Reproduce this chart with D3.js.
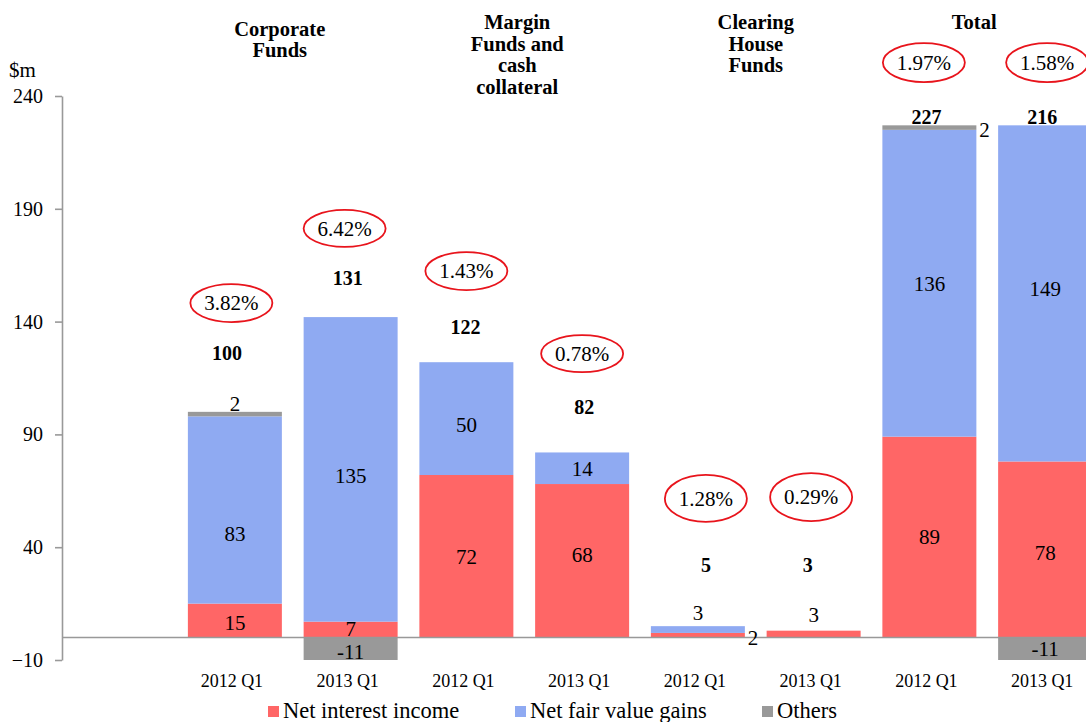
<!DOCTYPE html>
<html>
<head>
<meta charset="utf-8">
<script src="https://cdn.jsdelivr.net/npm/d3@7"></script>
<style>
  html, body { margin: 0; padding: 0; background: #fff; }
</style>
</head>
<body>
<svg id="chart" width="1086" height="722"></svg>
<script>
// ---- data ----
var barKeys   = ["cf12", "cf13", "mf12", "mf13", "ch12", "ch13", "tt12", "tt13"];
var periods   = ["2012 Q1", "2013 Q1", "2012 Q1", "2013 Q1", "2012 Q1", "2013 Q1", "2012 Q1", "2013 Q1"];
var groups    = ["Corporate\nFunds", "Margin\nFunds and\ncash\ncollateral", "Clearing\nHouse\nFunds", "Total"];
var interest  = [15, 7, 72, 68, 2, 3, 89, 78];
var fairValue = [83, 135, 50, 14, 3, 0, 136, 149];
var others    = [2, -11, 0, 0, 0, 0, 2, -11];
var totals    = [100, 131, 122, 82, 5, 3, 227, 216];
var yields    = ["3.82%", "6.42%", "1.43%", "0.78%", "1.28%", "0.29%", "1.97%", "1.58%"];
var yTicks    = [-10, 40, 90, 140, 190, 240];
var seriesNames = ["Net interest income", "Net fair value gains", "Others"];

// ---- annotation anchors (chart units) ----
var ellipseAt = [148.2, 181.3, 162.4, 125.8, 61.6, 62.2, 254.8, 254.8];
var totalAt   = [126, 159.3, 137.5, 102, 32.3, 32.3, 230.5, 230.5];
// annotation layout tweaks (px)
var ellipseDx = [-3.5, -6, 0, 0, 8, -2.5, -5.5, 2];
var ellipseRy = [19, 18.5, 19, 18.5, 23.5, 24, 19.5, 19.5];
var totalDx   = [-8, -3, -1, 2, 8, -6, -3, -3];
// where small segment labels go instead of the middle, plus pixel nudges
var smallLabel = { "0-4": "right", "1-4": "above", "0-5": "above", "2-0": "above", "2-6": "right" };
var labelNudge = { "1-0": 24, "0-3": -6, "1-1": 6, "1-2": 6, "1-7": -5, "0-7": 3, "0-0": 2, "2-0": 5, "0-5": -3, "2-1": 3, "0-1": -1 };
var FONT = "Liberation Serif";

var colors = ["#ff6666", "#8faaf2", "#999999"];

var svg = d3.select("#chart");
var W = 1086, H = 722;

var y = d3.scaleLinear().domain([-10, 240]).range([660, 96]);
var x = d3.scaleBand().domain(barKeys).range([177, 1103]).paddingInner(0.188).paddingOuter(0.094);

var rows = barKeys.map(function(k, i) {
  return { key: k, s0: interest[i], s1: fairValue[i], s2: others[i] };
});
var stacked = d3.stack().keys(["s0", "s1", "s2"]).offset(d3.stackOffsetDiverging)(rows);

svg.append("defs").append("clipPath").attr("id", "plot")
  .append("rect").attr("x", 62).attr("y", y(240)).attr("width", W).attr("height", y(-10) - y(240));

// bars
var plot = svg.append("g").attr("clip-path", "url(#plot)");
stacked.forEach(function(layer, si) {
  layer.forEach(function(seg, bi) {
    var v = seg[1] - seg[0];
    if (v === 0) return;
    plot.append("rect")
      .attr("x", x(barKeys[bi]))
      .attr("y", y(seg[1]))
      .attr("width", x.bandwidth())
      .attr("height", y(seg[0]) - y(seg[1]))
      .attr("fill", colors[si]);
  });
});

// zero line
svg.append("line")
  .attr("x1", 62).attr("x2", W)
  .attr("y1", y(0)).attr("y2", y(0))
  .attr("stroke", "#999").attr("stroke-width", 1.6);

// y axis
svg.append("g")
  .attr("transform", "translate(62,0)")
  .call(d3.axisLeft(y).tickValues(yTicks).tickSize(7).tickSizeOuter(0).tickPadding(12))
  .call(function(g) {
    g.attr("font-size", 20);
    g.select(".domain").attr("stroke", "#999").attr("stroke-width", 1.6);
    g.selectAll(".tick line").attr("stroke", "#999").attr("stroke-width", 1.6);
    g.selectAll("text").attr("fill", "#000");
  });

svg.append("text").attr("x", 9).attr("y", 77)
  .attr("font-size", 21).text("$m");

// segment labels
stacked.forEach(function(layer, si) {
  layer.forEach(function(seg, bi) {
    var v = seg[1] - seg[0];
    var raw = [interest, fairValue, others][si][bi];
    if (v === 0) return;
    var id = si + "-" + bi;
    var mode = smallLabel[id] || "mid";
    var nudge = labelNudge[id] || 0;
    var t = svg.append("text").attr("font-size", 21).attr("fill", "#000").text(raw);
    var cx = x(barKeys[bi]) + x.bandwidth() / 2;
    if (mode === "mid") {
      var top = Math.max(y(seg[1]), y(240)), bot = Math.min(y(seg[0]), y(-10));
      t.attr("x", cx).attr("y", (top + bot) / 2 + nudge).attr("dy", "0.35em").attr("text-anchor", "middle");
    } else if (mode === "above") {
      t.attr("x", cx).attr("y", y(seg[1]) - 6 + nudge).attr("text-anchor", "middle");
    } else {
      t.attr("x", x(barKeys[bi]) + x.bandwidth() + 3).attr("y", (y(seg[0]) + y(seg[1])) / 2 + 2)
        .attr("dy", "0.35em");
    }
  });
});

// yield ellipses and totals
barKeys.forEach(function(k, i) {
  var cx = x(k) + x.bandwidth() / 2;
  var ex = cx + ellipseDx[i];
  var cy = y(ellipseAt[i]);
  svg.append("ellipse").attr("cx", ex).attr("cy", cy).attr("rx", 41).attr("ry", ellipseRy[i])
    .attr("fill", "none").attr("stroke", "#e8141c").attr("stroke-width", 1.8);
  svg.append("text").attr("x", ex).attr("y", cy).attr("dy", "0.35em")
    .attr("text-anchor", "middle").attr("font-size", 21).text(yields[i]);
  svg.append("text").attr("x", cx + totalDx[i]).attr("y", y(totalAt[i])).attr("dy", "0.35em")
    .attr("text-anchor", "middle").attr("font-size", 20).attr("font-weight", "bold").text(totals[i]);
});

// group headers
var headerTop = [35.5, 29, 29, 29];
var headerShift = [-13, -7, 0, -13];
groups.forEach(function(g, gi) {
  var cx = (x(barKeys[gi * 2]) + x(barKeys[gi * 2 + 1]) + x.bandwidth()) / 2 + headerShift[gi];
  var t = svg.append("text").attr("text-anchor", "middle").attr("font-size", 20.5).attr("font-weight", "bold");
  g.split("\n").forEach(function(line, li) {
    t.append("tspan").attr("x", cx).attr("y", headerTop[gi] + li * 21.5).text(line);
  });
});

// x labels
barKeys.forEach(function(k, i) {
  svg.append("text").attr("x", x(k) + x.bandwidth() / 2 - 3).attr("y", 687)
    .attr("text-anchor", "middle").attr("font-size", 18).text(periods[i]);
});

// legend
var legendX = [268, 515, 762];
seriesNames.forEach(function(n, i) {
  svg.append("rect").attr("x", legendX[i]).attr("y", 706).attr("width", 11).attr("height", 11).attr("fill", colors[i]);
  svg.append("text").attr("x", legendX[i] + 15).attr("y", 718).attr("font-size", 22.5).text(n);
});

svg.selectAll("text").attr("font-family", FONT);
</script>
</body>
</html>
